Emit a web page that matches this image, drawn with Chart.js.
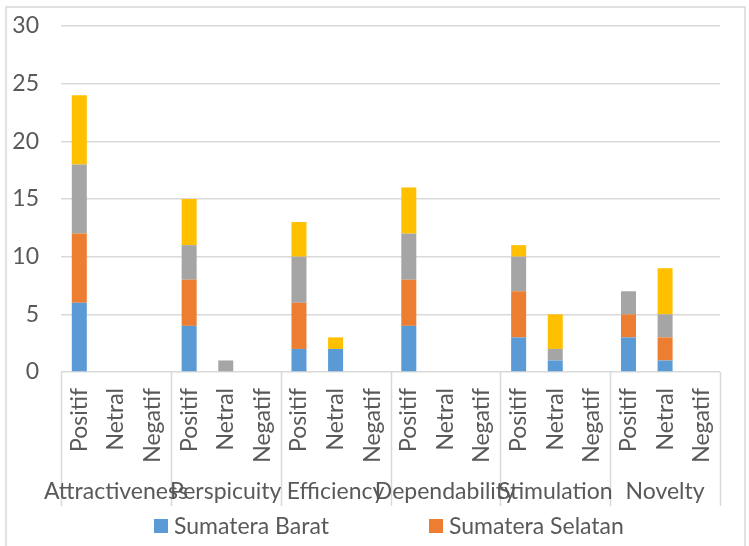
<!DOCTYPE html>
<html>
<head>
<meta charset="utf-8">
<script src="https://cdn.jsdelivr.net/npm/chart.js@4.4.1/dist/chart.umd.min.js"></script>
<style>
  html, body { margin: 0; padding: 0; background: #fff; }
  canvas { display: block; }
</style>
</head>
<body>
<canvas id="uxChart" width="749" height="546"></canvas>
<script>
// aspects and answer levels
const groups = ['Attractiveness', 'Perspicuity', 'Efficiency', 'Dependability', 'Stimulation', 'Novelty'];
const levels = ['Positif', 'Netral', 'Negatif'];

// values per aspect, in order Positif / Netral / Negatif
const sumateraBarat   = [6, 0, 0, 4, 0, 0, 2, 2, 0, 4, 0, 0, 3, 1, 0, 3, 1, 0];
const sumateraSelatan = [6, 0, 0, 4, 0, 0, 4, 0, 0, 4, 0, 0, 4, 0, 0, 2, 2, 0];
const series3         = [6, 0, 0, 3, 1, 0, 4, 0, 0, 4, 0, 0, 3, 1, 0, 2, 2, 0];
const series4         = [6, 0, 0, 4, 0, 0, 3, 1, 0, 4, 0, 0, 1, 3, 0, 0, 4, 0];

const yTicks = [0, 5, 10, 15, 20, 25, 30];

const labels = [];
groups.forEach(() => levels.forEach(l => labels.push(l)));

const textColor = '#595959';
const lineColor = '#d9d9d9';
const fontFamily = 'Lato, sans-serif';
const fontSize = 23;

Chart.defaults.font.family = fontFamily;
Chart.defaults.color = textColor;

// draws group labels, divider lines, frame and the legend row
const groupPlugin = {
    id: 'groupLabels',
    afterDraw(chart) {
        const ctx = chart.ctx;
        const x = chart.scales.x;
        ctx.save();

        // outer frame
        ctx.strokeStyle = lineColor;
        ctx.lineWidth = 1.5;
        ctx.strokeRect(6, 7, 739, 560);

        // dividers between aspects
        ctx.beginPath();
        for (let g = 0; g <= groups.length; g++) {
            let px;
            if (g === 0) px = x.left;
            else if (g === groups.length) px = x.right;
            else px = (x.getPixelForValue(g * 3 - 1) + x.getPixelForValue(g * 3)) / 2;
            px = Math.round(px) + 0.5;
            ctx.moveTo(px, x.top);
            ctx.lineTo(px, 506);
        }
        ctx.stroke();

        // aspect names
        ctx.fillStyle = textColor;
        ctx.font = fontSize + 'px ' + fontFamily;
        ctx.textAlign = 'center';
        ctx.textBaseline = 'middle';
        groups.forEach((name, g) => {
            const cx = (x.getPixelForValue(g * 3) + x.getPixelForValue(g * 3 + 2)) / 2;
            ctx.fillText(name, cx, 492);
        });

        // legend (only the first row is visible)
        ctx.textAlign = 'left';
        chart.data.datasets.slice(0, 2).forEach((ds, i) => {
            const lx = 154 + i * 275;
            ctx.fillStyle = ds.backgroundColor;
            ctx.fillRect(lx, 519, 14, 14);
            ctx.fillStyle = textColor;
            ctx.fillText(ds.label, lx + 20, 527);
        });

        ctx.restore();
    }
};

const ctx = document.getElementById('uxChart').getContext('2d');
const uxChart = new Chart(ctx, {
    type: 'bar',
    data: {
        labels: labels,
        datasets: [
            { label: 'Sumatera Barat', data: sumateraBarat, backgroundColor: '#5B9BD5' },
            { label: 'Sumatera Selatan', data: sumateraSelatan, backgroundColor: '#ED7D31' },
            { label: 'Series 3', data: series3, backgroundColor: '#A5A5A5' },
            { label: 'Series 4', data: series4, backgroundColor: '#FFC000' }
        ]
    },
    options: {
        responsive: false,
        animation: false,
        layout: {
            padding: { top: 26, right: 29, bottom: 0, left: 0 }
        },
        datasets: {
            bar: { categoryPercentage: 1, barPercentage: 0.41 }
        },
        scales: {
            x: {
                stacked: true,
                grid: { display: false, drawTicks: false },
                border: { display: false },
                afterFit: (scale) => { scale.height = 174; },
                ticks: {
                    autoSkip: false,
                    minRotation: 90,
                    maxRotation: 90,
                    padding: 16,
                    color: textColor,
                    font: { size: fontSize }
                }
            },
            y: {
                stacked: true,
                min: 0,
                max: 30,
                afterFit: (scale) => { scale.width = 61; },
                afterBuildTicks: (scale) => { scale.ticks = yTicks.map(v => ({ value: v })); },
                // invisible tick marks keep the labels away from the plot
                grid: { color: lineColor, lineWidth: 1.5, tickLength: 22, tickColor: 'rgba(0,0,0,0)' },
                border: { display: false },
                ticks: {
                    padding: 0,
                    color: textColor,
                    font: { size: fontSize }
                }
            }
        },
        plugins: {
            legend: { display: false },
            tooltip: { enabled: false }
        }
    },
    plugins: [groupPlugin]
});
</script>
</body>
</html>
